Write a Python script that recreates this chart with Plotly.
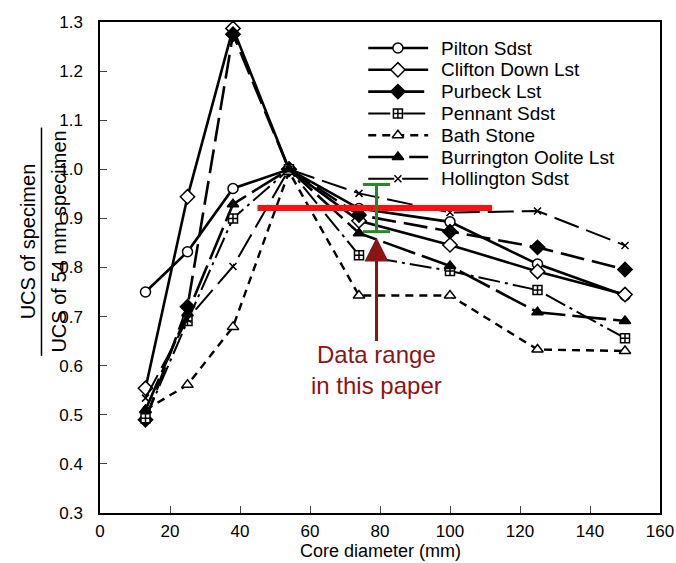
import plotly.graph_objects as go

# Core diameters (mm)
diameters = [13, 25, 38, 54, 74, 100, 125, 150]

# UCS ratio (specimen / 54 mm specimen) for each rock type
pilton = [0.750, 0.832, 0.961, 1.000, 0.920, 0.893, 0.807, 0.743]
clifton = [0.554, 0.944, 1.287, 1.000, 0.895, 0.846, 0.792, 0.745]
purbeck = [0.490, 0.720, 1.275, 1.000, 0.907, 0.873, 0.841, 0.796]
pennant = [0.493, 0.691, 0.900, 1.000, 0.825, 0.793, 0.754, 0.656]
bath = [0.510, 0.561, 0.679, 0.995, 0.743, 0.743, 0.633, 0.630]
burrington = [0.510, 0.707, 0.929, 1.000, 0.870, 0.803, 0.709, 0.691]
hollington = [0.534, 0.695, 0.802, 1.000, 0.951, 0.912, 0.915, 0.845]

# Range of results reported in this paper
paper_mean = 0.921
paper_low = 0.873
paper_high = 0.969
paper_diam = 79
mean_x_span = [45, 112]

FONT = "Liberation Sans, Arial, Helvetica, sans-serif"

# name, values, dash, marker symbol, marker fill, marker size, line width
series = [
    ("Pilton Sdst", pilton, "solid", "circle", "white", 10, 2.6),
    ("Clifton Down Lst", clifton, "solid", "diamond", "white", 11, 2.6),
    ("Purbeck Lst", purbeck, "24px,8px", "diamond", "black", 11, 2.6),
    ("Pennant Sdst", pennant, "22px,5px,3px,5px", "square-cross", "white", 9, 2.0),
    ("Bath Stone", bath, "8px,6px", "triangle-up", "white", 10, 2.4),
    ("Burrington Oolite Lst", burrington, "34px,7px", "triangle-up", "black", 10, 2.6),
    ("Hollington Sdst", hollington, "26px,8px", "x-thin", "black", 7, 2.0),
]

# Key layout, in fractions of the plotting area (overlay axes span 0..1)
KEY_X0, KEY_X1, KEY_XM, KEY_TEXT_X = 0.479, 0.586, 0.532, 0.606
KEY_Y_TOP, KEY_ROW = 0.947, 0.0444

fig = go.Figure()
for i, (name, vals, dash, sym, fill, size, lw) in enumerate(series):
    line = dict(color="black", width=lw, dash=dash)
    marker = dict(symbol=sym, size=size, color=fill,
                  line=dict(color="black", width=1.5))
    fig.add_trace(go.Scatter(x=diameters, y=vals, name=name,
                             mode="lines+markers", line=line, marker=marker,
                             showlegend=False))
    # key entry: sample line, marker, label
    ky = KEY_Y_TOP - i * KEY_ROW
    fig.add_trace(go.Scatter(x=[KEY_X0, KEY_X1], y=[ky, ky], mode="lines",
                             line=line, xaxis="x2", yaxis="y2",
                             showlegend=False, hoverinfo="skip"))
    fig.add_trace(go.Scatter(x=[KEY_XM], y=[ky], mode="markers", marker=marker,
                             xaxis="x2", yaxis="y2", showlegend=False,
                             hoverinfo="skip"))
    fig.add_annotation(x=KEY_TEXT_X, y=ky, xref="x2", yref="y2", text=name,
                       showarrow=False, xanchor="left", yanchor="middle",
                       font=dict(family=FONT, size=19, color="black"))

# Red line: mean of this paper's data
fig.add_shape(type="line", xref="x", yref="y",
              x0=mean_x_span[0], x1=mean_x_span[1], y0=paper_mean, y1=paper_mean,
              line=dict(color="#ff1010", width=6))

# Green range bar
cap = 3.9
fig.add_shape(type="line", xref="x", yref="y", x0=paper_diam, x1=paper_diam,
              y0=paper_low, y1=paper_high, line=dict(color="#228b22", width=3))
for yv in (paper_low, paper_high):
    fig.add_shape(type="line", xref="x", yref="y", x0=paper_diam - cap,
                  x1=paper_diam + cap, y0=yv, y1=yv,
                  line=dict(color="#228b22", width=3))

# Arrow and label
fig.add_annotation(x=paper_diam, y=paper_low - 0.012, ax=paper_diam, ay=0.647,
                   xref="x", yref="y", axref="x", ayref="y", text="",
                   showarrow=True, arrowhead=2, arrowsize=1.6, arrowwidth=3,
                   arrowcolor="#8b1414")
fig.add_annotation(x=paper_diam, y=0.592, xref="x", yref="y",
                   text="Data range<br>in this paper", showarrow=False,
                   font=dict(family=FONT, size=24, color="#8b1414"))

# X-axis title
fig.add_annotation(x=0.5, y=-0.078, xref="paper", yref="paper",
                   xanchor="center", yanchor="middle",
                   text="Core diameter (mm)", showarrow=False,
                   font=dict(family=FONT, size=18, color="black"))

# Y-axis title drawn as a fraction
fig.add_annotation(x=-0.127, y=0.553, xref="paper", yref="paper",
                   xanchor="center", yanchor="middle",
                   text="UCS of specimen", textangle=-90, showarrow=False,
                   font=dict(family=FONT, size=20, color="black"))
fig.add_annotation(x=-0.073, y=0.553, xref="paper", yref="paper",
                   xanchor="center", yanchor="middle",
                   text="UCS of 54 mm specimen", textangle=-90, showarrow=False,
                   font=dict(family=FONT, size=20, color="black"))
fig.add_shape(type="line", xref="paper", yref="paper", x0=-0.1045, x1=-0.1045,
              y0=0.320, y1=0.785, line=dict(color="black", width=1.5))

fig.update_layout(
    width=676, height=563,
    margin=dict(l=100, r=16, t=22, b=50, autoexpand=False),
    paper_bgcolor="white", plot_bgcolor="white",
    font=dict(family=FONT, size=17, color="black"),
    showlegend=False,
    xaxis=dict(range=[0, 160], dtick=20, ticks="inside", ticklen=7,
               ticklabelstandoff=2, automargin=False,
               showline=True, mirror=True, linecolor="black", linewidth=1.5,
               showgrid=False, zeroline=False),
    yaxis=dict(range=[0.3, 1.3], dtick=0.1, tickformat=".1f", ticks="inside",
               ticklen=7, ticklabelstandoff=12, automargin=False,
               showline=True, mirror=True,
               linecolor="black", linewidth=1.5, showgrid=False, zeroline=False),
    xaxis2=dict(overlaying="x", range=[0, 1], visible=False, fixedrange=True),
    yaxis2=dict(overlaying="y", range=[0, 1], visible=False, fixedrange=True),
)

fig.write_html("out.html")
